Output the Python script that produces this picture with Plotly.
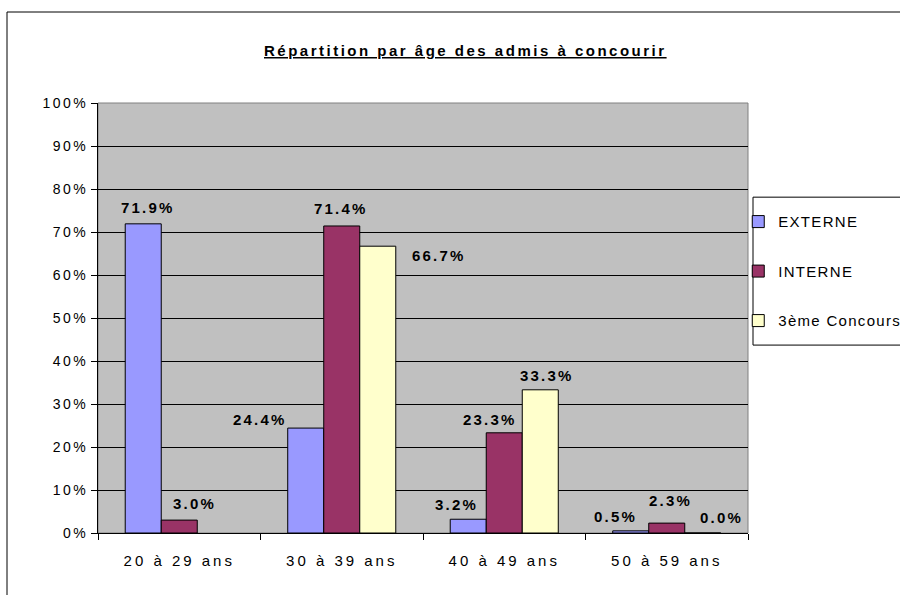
import plotly.graph_objects as go

categories = ["20 à 29 ans", "30 à 39 ans", "40 à 49 ans", "50 à 59 ans"]
series_names = ["EXTERNE", "INTERNE", "3ème Concours"]
externe = [0.719, 0.244, 0.032, 0.005]
interne = [0.030, 0.714, 0.233, 0.023]
troisieme = [None, 0.667, 0.333, 0.000]
y_ticks = [0, 0.1, 0.2, 0.3, 0.4, 0.5, 0.6, 0.7, 0.8, 0.9, 1.0]
y_tick_labels = ["0%", "10%", "20%", "30%", "40%", "50%", "60%", "70%", "80%", "90%", "100%"]
title_text = "Répartition par âge des admis à concourir"

# styles
colors = ["#9999FF", "#993366", "#FFFFCC"]
series_shift = [-36, 0, 36]
# label offsets (dx, dy) in pixels relative to bar centre / top
label_offsets = [
    [(5, 16), (-46, 9), (-12, 15), (-15, 14)],
    [(15, 17), (-1, 17), (-14, 13), (4, 23)],
    [None, (61, -9), (7, 14), (19, 16)],
]

FONT = "Liberation Sans, Arial, sans-serif"


def sp(text, ls):
    return f"<span style='letter-spacing:{ls}px'>{text}</span>"


fig = go.Figure()
all_values = [externe, interne, troisieme]
for name, vals, col in zip(series_names, all_values, colors):
    fig.add_trace(go.Bar(
        x=categories, y=vals, name=sp(name, 1.3),
        marker=dict(color=col, line=dict(color="black", width=1)),
        legendgroup=name,
    ))

annotations = []
for si, vals in enumerate(all_values):
    for ci, v in enumerate(vals):
        if v is None or label_offsets[si][ci] is None:
            continue
        dx, dy = label_offsets[si][ci]
        annotations.append(dict(
            x=categories[ci], y=v, xref="x", yref="y",
            text="<b>" + sp(f"{v*100:.1f}%", 2.2) + "</b>",
            showarrow=False, xanchor="center", yanchor="middle",
            xshift=series_shift[si] + dx, yshift=dy,
            font=dict(family=FONT, size=15, color="black"),
        ))

# title
annotations.append(dict(
    x=0.566, y=1.123, xref="paper", yref="paper",
    text="<b><span style='text-decoration:underline;letter-spacing:2.5px'>" + title_text + "</span></b>",
    showarrow=False, xanchor="center", yanchor="middle",
    font=dict(family=FONT, size=15, color="black"),
))

fig.update_layout(
    width=900, height=595,
    margin=dict(l=98, r=152, t=103, b=62, autoexpand=False),
    paper_bgcolor="white", plot_bgcolor="#C0C0C0",
    barmode="group", bargap=0.335, bargroupgap=0,
    font=dict(family=FONT, size=15, color="black"),
    showlegend=True,
    legend=dict(
        x=0.985, xanchor="left", y=0.762, yanchor="top",
        bgcolor="rgba(0,0,0,0)", borderwidth=0,
        tracegroupgap=27,
        font=dict(family=FONT, size=15, color="black"),
        itemclick=False,
    ),
    annotations=annotations,
    shapes=[
        # outer chart border
        dict(type="rect", xref="paper", yref="paper",
             x0=-0.14, y0=-0.2, x1=1.3, y1=1.2116,
             line=dict(color="black", width=1), fillcolor="rgba(0,0,0,0)", layer="below"),
        # plot area border
        dict(type="rect", xref="paper", yref="paper",
             x0=0, y0=0, x1=1, y1=1,
             line=dict(color="#808080", width=1), fillcolor="rgba(0,0,0,0)", layer="below"),
        # legend box
        dict(type="rect", xref="paper", yref="paper",
             x0=1.0077, y0=0.437, x1=1.3, y1=0.781,
             line=dict(color="black", width=1), fillcolor="white", layer="below"),
    ],
)

fig.update_xaxes(
    type="category", categoryorder="array", categoryarray=categories,
    tickvals=categories, ticktext=[sp(c, 3) for c in categories],
    ticks="outside", tickson="boundaries", ticklen=6, tickcolor="black",
    ticklabelstandoff=14,
    showline=True, linecolor="black", linewidth=1,
    showgrid=False, tickfont=dict(family=FONT, size=15, color="black"),
)
fig.update_yaxes(
    range=[0, 1], tickvals=y_ticks, ticktext=[sp(t, 2.5) for t in y_tick_labels],
    ticks="outside", ticklen=6, tickcolor="black",
    showline=True, linecolor="black", linewidth=1,
    showgrid=True, gridcolor="black", gridwidth=1, zeroline=False,
    tickfont=dict(family=FONT, size=14, color="black"),
)

fig.write_html(
    "out.html",
    config={"displayModeBar": False},
    post_script="document.body.style.margin='0';document.body.style.overflow='hidden';",
)
